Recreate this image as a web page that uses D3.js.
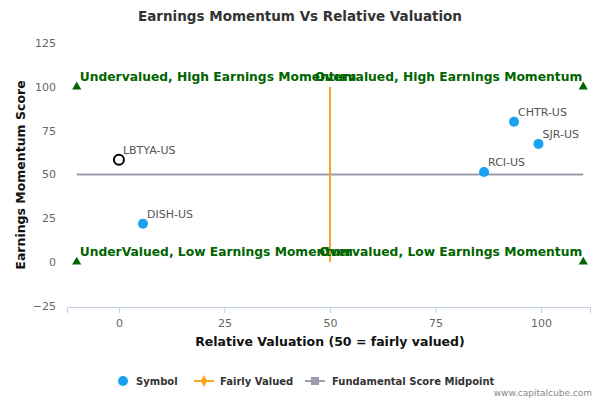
<!DOCTYPE html>
<html><head><meta charset="utf-8">
<script src="https://cdn.jsdelivr.net/npm/d3@7"></script>
<style>body{margin:0;background:#fff}text{font-family:"DejaVu Sans",Verdana,sans-serif}</style>
</head><body><svg id="c" width="600" height="400"></svg>
<script>
const symbols = ["LBTYA-US","DISH-US","RCI-US","CHTR-US","SJR-US"];
const valuation = [0, 5.7, 86.5, 93.6, 99.4];
const momentum = [58.3, 21.8, 51.4, 80, 67.4];
const highlighted = [true, false, false, false, false];
const xTicks = [0, 25, 50, 75, 100];
const yTicks = [-25, 0, 25, 50, 75, 100, 125];
const fairX = [50, 50], fairY = [0, 100];
const midX = [-10, 110], midY = [50, 50];
const cornerX = [-10, 110, -10, 110], cornerY = [100, 100, 0, 0];
const quadLabels = ["Undervalued, High Earnings Momentum","Overvalued, High Earnings Momentum","UnderValued, Low Earnings Momentum","Overvalued, Low Earnings Momentum"];

const svg = d3.select("#c");
const x = d3.scaleLinear().domain([-12.3, 111.6]).range([67, 590]);
const y = d3.scaleLinear().domain([-25.7, 125]).range([307, 43]);
const green = "#006400";

svg.append("text").attr("x",300).attr("y",21).attr("text-anchor","middle")
  .attr("font-size",13.5).attr("font-weight","bold").attr("fill","#333").text("Earnings Momentum Vs Relative Valuation");

const xa = svg.append("g").attr("transform","translate(0,307)")
  .call(d3.axisBottom(x).tickValues(xTicks).tickSize(6).tickPadding(6));
xa.select(".domain").attr("stroke","#c0d0e0");
xa.selectAll("line").attr("stroke","#c0d0e0");
xa.selectAll("text").attr("fill","#666").attr("font-size",11).attr("font-family","DejaVu Sans");
const ya = svg.append("g").attr("transform","translate(56,0)")
  .call(d3.axisLeft(y).tickValues(yTicks).tickSize(0).tickPadding(0));
ya.select(".domain").remove();
ya.selectAll("text").attr("fill","#666").attr("font-size",11).attr("font-family","DejaVu Sans");

svg.append("text").attr("x",330).attr("y",346).attr("text-anchor","middle")
  .attr("font-size",12.5).attr("font-weight","bold").attr("fill","#111").text("Relative Valuation (50 = fairly valued)");
svg.append("text").attr("transform","translate(25,175) rotate(-90)").attr("text-anchor","middle")
  .attr("font-size",12.5).attr("font-weight","bold").attr("fill","#111").text("Earnings Momentum Score");

const line = d3.line().x(d=>x(d[0])).y(d=>y(d[1]));
svg.append("path").attr("d",line(midX.map((v,i)=>[v,midY[i]]))).attr("stroke","#9a9cab").attr("stroke-width",2).attr("fill","none");
svg.append("path").attr("d",line(fairX.map((v,i)=>[v,fairY[i]]))).attr("stroke","#f5a623").attr("stroke-width",2).attr("fill","none");

const tri = d3.symbol().type(d3.symbolTriangle).size(36);
cornerX.forEach((v,i)=>{
  svg.append("path").attr("d",tri()).attr("transform",`translate(${x(v)},${y(cornerY[i])})`).attr("fill",green);
});
[[x(-10)+3,y(100)-6,"start"],[x(110)-1,y(100)-6,"end"],[x(-10)+3,y(0)-6,"start"],[x(110)-1,y(0)-6,"end"]].forEach((p,i)=>{
  svg.append("text").attr("x",p[0]).attr("y",p[1]).attr("text-anchor",p[2])
    .attr("font-size",12.3).attr("font-weight","bold").attr("fill",green).text(quadLabels[i]);
});

symbols.forEach((s,i)=>{
  const cx=x(valuation[i]), cy=y(momentum[i]);
  if(highlighted[i]) svg.append("circle").attr("cx",cx).attr("cy",cy).attr("r",5).attr("fill","#fff").attr("stroke","#000").attr("stroke-width",2);
  else svg.append("circle").attr("cx",cx).attr("cy",cy).attr("r",5).attr("fill","#1aa0f0");
  svg.append("text").attr("x",cx+4).attr("y",cy-6).attr("font-size",11).attr("fill","#555").text(s);
});

const lg = svg.append("g");
lg.append("circle").attr("cx",123).attr("cy",381).attr("r",5).attr("fill","#1aa0f0");
lg.append("text").attr("x",136).attr("y",385).attr("font-size",10).attr("font-weight","bold").attr("fill","#333").text("Symbol");
lg.append("line").attr("x1",194).attr("x2",214).attr("y1",381).attr("y2",381).attr("stroke","#f5a623").attr("stroke-width",2);
lg.append("path").attr("d",d3.symbol().type(d3.symbolDiamond).size(40)()).attr("transform","translate(204,381)").attr("fill","#f5a623");
lg.append("text").attr("x",220).attr("y",385).attr("font-size",10).attr("font-weight","bold").attr("fill","#333").text("Fairly Valued");
lg.append("line").attr("x1",305).attr("x2",325).attr("y1",381).attr("y2",381).attr("stroke","#9a9cab").attr("stroke-width",2);
lg.append("rect").attr("x",311).attr("y",377).attr("width",8).attr("height",8).attr("fill","#9a9cab");
lg.append("text").attr("x",332).attr("y",385).attr("font-size",10).attr("font-weight","bold").attr("fill","#333").text("Fundamental Score Midpoint");
svg.append("text").attr("x",592).attr("y",396).attr("text-anchor","end").attr("font-size",9).attr("fill","#888").text("www.capitalcube.com");
</script></body></html>
